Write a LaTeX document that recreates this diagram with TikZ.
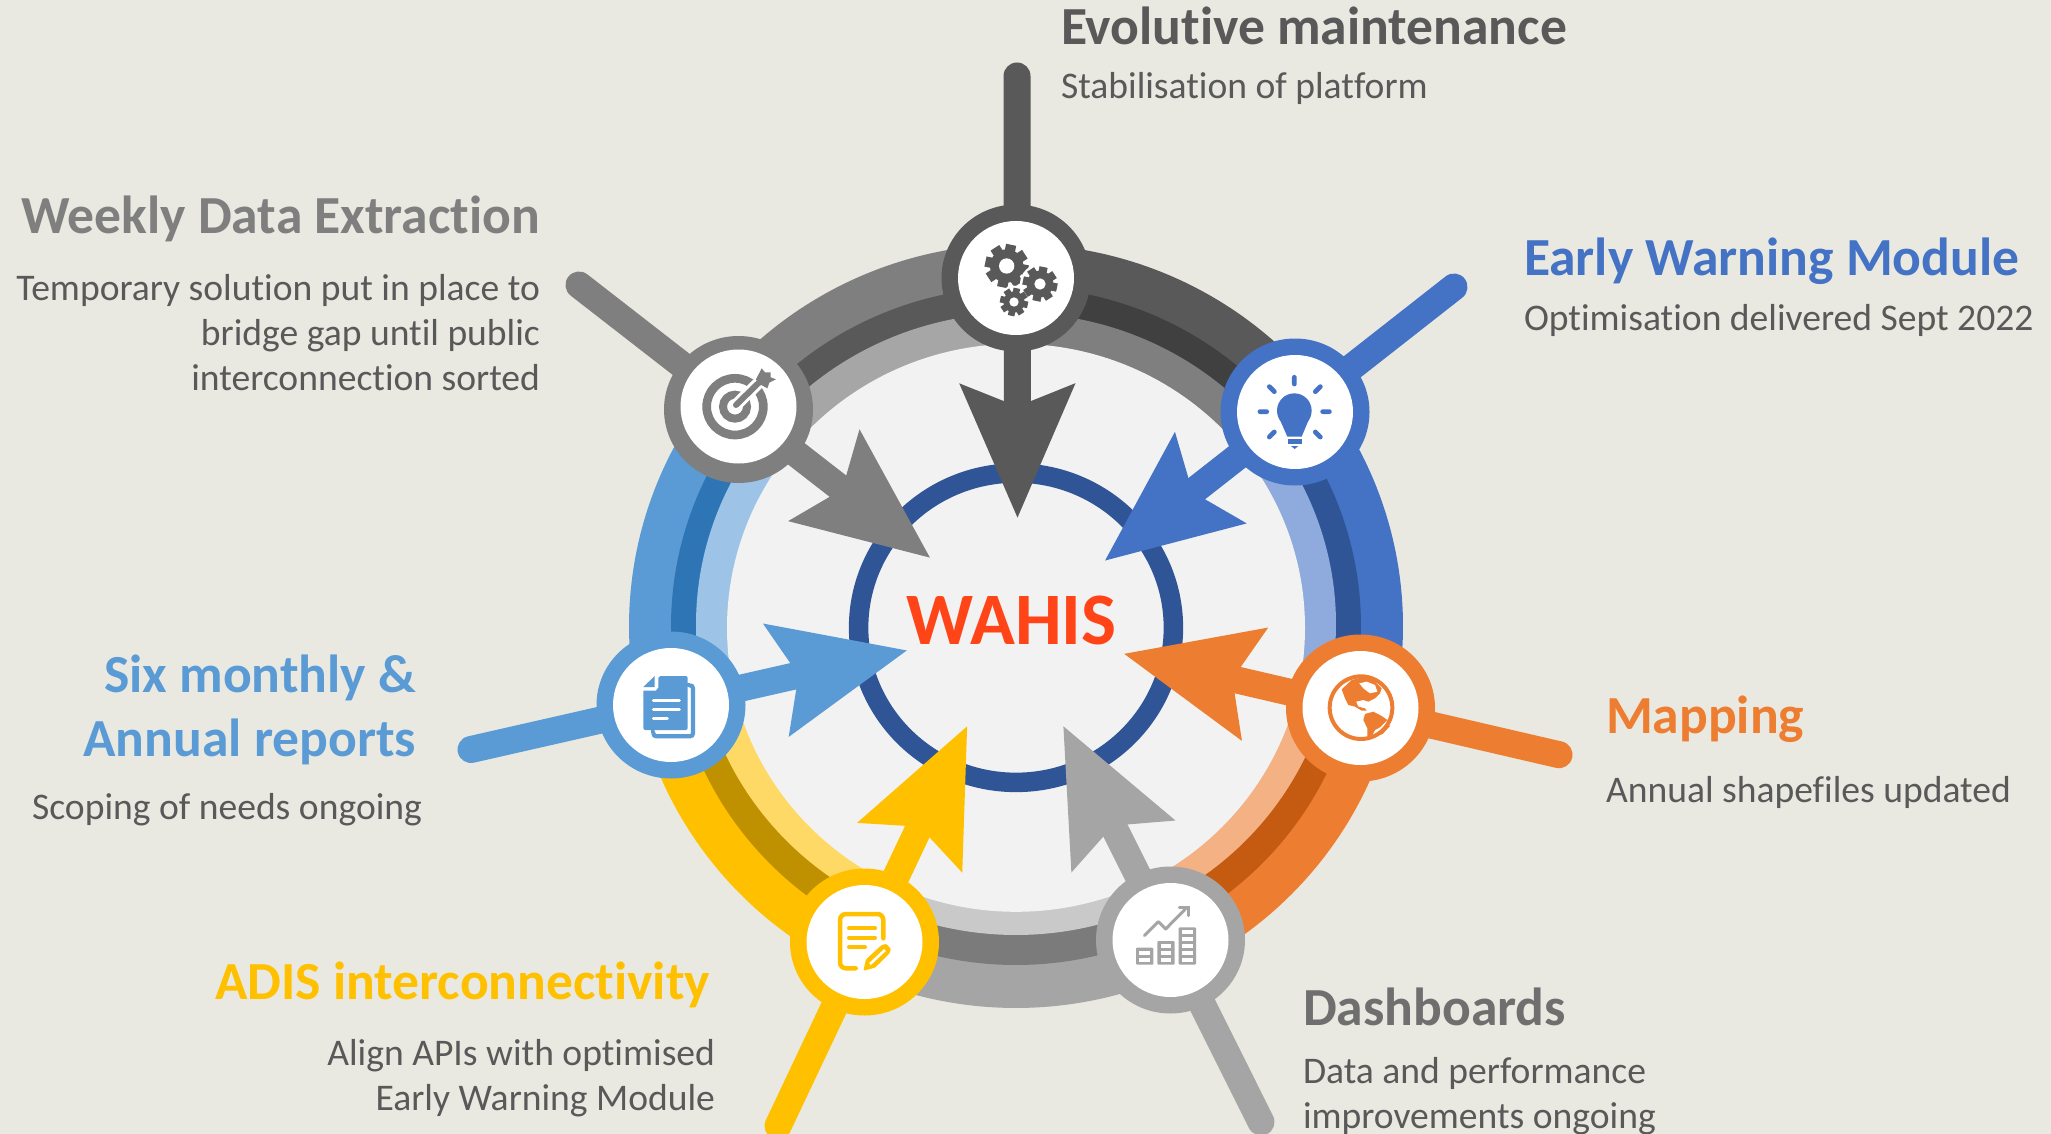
\documentclass[tikz,border=0pt]{standalone}
\usepackage{fontspec}
\setmainfont[Ligatures=NoCommon]{Carlito}
\usetikzlibrary{arrows.meta,shapes.geometric}
\definecolor{bgc}{HTML}{E9E9E1}
\definecolor{innerc}{HTML}{F2F2F2}
\definecolor{coreblue}{HTML}{2F5597}
\definecolor{gA}{HTML}{595959}\definecolor{gAd}{HTML}{404040}\definecolor{gAl}{HTML}{7F7F7F}
\definecolor{gB}{HTML}{7F7F7F}\definecolor{gBd}{HTML}{595959}\definecolor{gBl}{HTML}{A6A6A6}
\definecolor{bA}{HTML}{4472C4}\definecolor{bAd}{HTML}{2F5597}\definecolor{bAl}{HTML}{8FAADC}
\definecolor{bB}{HTML}{5B9BD5}\definecolor{bBd}{HTML}{2E75B6}\definecolor{bBl}{HTML}{9DC3E6}
\definecolor{oA}{HTML}{ED7D31}\definecolor{oAd}{HTML}{C55A11}\definecolor{oAl}{HTML}{F4B183}
\definecolor{sA}{HTML}{A5A5A5}\definecolor{sAd}{HTML}{7B7B7B}\definecolor{sAl}{HTML}{C9C9C9}
\definecolor{yA}{HTML}{FFC000}\definecolor{yAd}{HTML}{BF9000}\definecolor{yAl}{HTML}{FFD966}
\definecolor{headtxt}{HTML}{595959}\definecolor{bodytxt}{HTML}{595959}\definecolor{wahisc}{HTML}{FF4517}
\definecolor{dashtxt}{HTML}{6F6F6F}
\newcommand{\ringsector}[3]{%
 \fill[#3] (1016,626) -- ++(#1:387 and 382) arc[start angle=#1,end angle=#2,x radius=387,y radius=382] -- cycle;
 \fill[#3d] (1016,626) -- ++(#1:345 and 339) arc[start angle=#1,end angle=#2,x radius=345,y radius=339] -- cycle;
 \fill[#3l] (1016,624) -- ++(#1:320 and 311) arc[start angle=#1,end angle=#2,x radius=320,y radius=311] -- cycle;
}
\newcommand{\hubnode}[6]{%
 \node[hubring,fill=#2] (#1) at (#3,#4) {};
 \node[hubface] (#1face) at (#5,#6) {};
}
\newcommand{\geared}[6]{% x y outer body hole color
 \foreach \a in {0,45,...,315}{\draw[line width=0.62*#4/3*1pt,#6] (#1,#2) -- ++(\a+12:#3);}
 \fill[#6] (#1,#2) circle[radius=#4];
 \fill[white] (#1,#2) circle[radius=#5];
}
\tikzset{
 hubring/.style={ellipse,minimum width=149pt,minimum height=147pt,inner sep=0pt,outer sep=0pt},
 hubface/.style={ellipse,fill=white,minimum width=116pt,minimum height=114pt,inner sep=0pt,outer sep=0pt},
 spoke/.style={line width=27pt,line cap=round,-{Stealth[length=132pt,width=110pt,inset=20pt]}},
 headlabel/.style={font=\bfseries\fontsize{53.6}{53.6}\selectfont,inner sep=0pt,outer sep=0pt},
 bodylabel/.style={font=\fontsize{37.6}{44.5}\selectfont,text=bodytxt,inner sep=0pt,outer sep=0pt},
}
\begin{document}
\begin{tikzpicture}[x=1pt,y=-1pt]
\useasboundingbox (0,0) rectangle (2051,1134);
\fill[bgc] (0,0) rectangle (2051,1134);
% ring
\ringsector{-141.4}{-90}{gB}
\ringsector{-90}{-37.9}{gA}
\ringsector{-37.9}{12.9}{bA}
\ringsector{-192.4}{-141.4}{bB}
\ringsector{-244.2}{-192.4}{yA}
\ringsector{-296.4}{-244.2}{sA}
\ringsector{-347.1}{-296.4}{oA}
\fill[innerc] (1016,627.8) ellipse[x radius=289,y radius=284];
\node[ellipse,draw=coreblue,line width=19.5pt,minimum width=314.8pt,minimum height=309.4pt,inner sep=0pt] (core) at (1016,627.7) {};
% coordinates
\coordinate (gearEnd) at (1017,76);   \coordinate (gearTip) at (1017.5,518.7);
\coordinate (targetEnd) at (579,285); \coordinate (targetTip) at (930.8,558.3);
\coordinate (bulbEnd) at (1454,287);  \coordinate (bulbTip) at (1104.2,561.2);
\coordinate (fileEnd) at (471,749.5); \coordinate (fileTip) at (907.9,650.2);
\coordinate (globeEnd) at (1559,754.7); \coordinate (globeTip) at (1123.1,653.6);
\coordinate (penEnd) at (778,1126);   \coordinate (penTip) at (967.6,725.3);
\coordinate (chartEnd) at (1261,1122); \coordinate (chartTip) at (1062.9,725.3);
\draw[spoke,gA] (gearEnd) -- (gearTip);
\draw[spoke,gB] (targetEnd) -- (targetTip);
\draw[spoke,bA] (bulbEnd) -- (bulbTip);
\draw[spoke,bB] (fileEnd) -- (fileTip);
\draw[spoke,oA] (globeEnd) -- (globeTip);
\draw[spoke,yA] (penEnd) -- (penTip);
\draw[spoke,sA] (chartEnd) -- (chartTip);
% hubs
\hubnode{gear}{gA}{1016}{278}{1016}{278}
\hubnode{target}{gB}{738.5}{409.5}{738.5}{406.5}
\hubnode{bulb}{bA}{1295}{412}{1295}{412}
\hubnode{globe}{oA}{1360.5}{708}{1360.5}{708}
\hubnode{file}{bB}{671}{705}{671}{705}
\hubnode{pen}{yA}{864.5}{942}{864.5}{942}
\hubnode{chart}{sA}{1170.5}{940}{1170.5}{940}
% gear icon
\begin{scope}[shift={(930,210)},scale=1/3]
 \geared{230}{168}{65}{50}{23}{gA}
 \fill[white] (330,222) circle[radius=60];
 \fill[white] (252,276) circle[radius=49];
 \geared{330}{222}{52}{40}{17}{gA}
 \geared{252}{276}{42}{32}{14}{gA}
\end{scope}
% target icon
\begin{scope}[shift={(650,320)},scale=1/3]
 \draw[gB,line width=8.7pt] (255,260) circle[radius=85];
 \draw[gB,line width=8pt] (255,260) circle[radius=36];
 \draw[white,line width=12pt] (258,255) -- (345,170);
 \draw[gB,line width=6pt,line cap=round] (258,255) -- (345,170);
 \fill[gB] (335,145)--(345,157)--(362,157)--(362,172)--(378,178)--(358,188)--(352,205)--(325,190)--(318,178)--cycle;
\end{scope}
% bulb icon
\begin{scope}[shift={(1210,340)},scale=1/3]
 \fill[bA] (253,212) circle[radius=52];
 \fill[bA] (208,235) -- (298,235) -- (275,290) -- (232,290) -- cycle;
 \fill[bA] (233,296) rectangle (277,311);
 \fill[bA] (243,318) -- (265,318) -- (254,327) -- cycle;
 \draw[bA,line width=4.8pt,line cap=round]
  (253,112)--(253,132) (338,215)--(358,215) (150,215)--(170,215)
  (178,140)--(193,155) (331,140)--(316,155) (178,291)--(193,276) (331,291)--(316,276);
\end{scope}
% globe icon
\begin{scope}[shift={(1280,640)},scale=1/3]
 \draw[oA,line width=4pt] (243,203) circle[radius=94];
 \fill[oA] (185,148)--(215,120)--(245,112)--(280,120)--(305,145)--(300,160)--(285,175)--(265,185)--(250,180)--(228,185)--(235,200)--(255,205)--(260,212)--(245,212)--(225,200)--(205,195)--(195,175)--cycle;
 \fill[white] (238,130)--(260,125)--(285,135)--(292,155)--(270,160)--(250,145)--cycle;
 \fill[oA] (255,222)--(280,215)--(305,228)--(322,240)--(300,262)--(285,270)--(272,295)--(262,290)--(262,265)--(250,240)--cycle;
 \fill[oA] (282,290)--(303,272)--(324,254)--(330,258)--(308,282)--cycle;
\end{scope}
% chart icon
\begin{scope}[shift={(1100,870)},scale=1/3]
 \fill[sA,rounded corners=1pt] (108,233) rectangle (160,284);
 \fill[sA,rounded corners=1pt] (172,213) rectangle (224,284);
 \fill[sA,rounded corners=1pt] (236,172) rectangle (288,284);
 \foreach \y in {243,264} {\fill[white] (118,\y) rectangle (150,\y+11);}
 \foreach \y in {222,243,264} {\fill[white] (182,\y) rectangle (214,\y+11);}
 \foreach \y in {181,202,222,243,264} {\fill[white] (246,\y) rectangle (278,\y+11);}
 \draw[sA,line width=3pt,line cap=round,line join=round] (133,197)--(175,155)--(197,177)--(258,115);
 \draw[sA,line width=3pt,line cap=round,line join=miter] (238,111)--(265,111)--(265,137);
\end{scope}
% pen icon
\begin{scope}[shift={(785,870)},scale=1/3]
 \draw[yA,line width=4.5pt,line cap=round,rounded corners=6pt] (212,295)--(165,295)--(165,132)--(295,132)--(295,205);
 \draw[yA,line width=4pt,line cap=round] (192,175)--(270,175) (192,203)--(270,203) (192,231)--(240,231);
 \fill[yA,rounded corners=1pt] (235,302)--(243,268)--(290,225)--(305,222)--(318,238)--(312,252)--(270,293)--cycle;
 \draw[white,line width=2.6pt] (255,282)--(300,240);
\end{scope}
% file icon
\begin{scope}[shift={(590,630)},scale=1/3]
 \draw[bB,line width=4.2pt,line cap=butt,rounded corners=3pt] (300,166)--(309,166)--(309,319)--(190,319)--(190,310);
 \fill[bB,rounded corners=2pt] (160,178)--(202,178)--(205,138)--(293,138)--(293,300)--(160,300)--cycle;
 \fill[white] (197,135)--(205,135)--(205,172)--(197,182)--(157,182)--(157,175)--(197,175)--cycle;
 \fill[bB] (160,171)--(194,171)--(194,138)--cycle;
 \draw[white,line width=3pt,line cap=round] (190,212)--(268,212) (190,238)--(268,238) (190,264)--(232,264);
\end{scope}
% centre text
\node[font=\bfseries\fontsize{74}{74}\selectfont,text=wahisc,anchor=base,inner sep=0pt] (wahis) at (1011.5,644) {WAHIS};
% labels
\node[headlabel,text=headtxt,anchor=base west] (evoT) at (1061,45) {Evolutive maintenance};
\node[bodylabel,anchor=base west] (evoB) at (1061,99) {Stabilisation of platform};
\node[headlabel,text=gB,anchor=base east] (wdeT) at (540,234) {Weekly Data Extraction};
\node[bodylabel,anchor=base east] (wdeB) at (540,300) {Temporary solution put in place to};
\node[bodylabel,anchor=base east] (wdeB2) at (540,345) {bridge gap until public};
\node[bodylabel,anchor=base east] (wdeB3) at (540,390) {interconnection sorted};
\node[headlabel,text=bA,anchor=base west] (ewT) at (1524,276) {Early Warning Module};
\node[bodylabel,anchor=base west] (ewB) at (1524,330) {Optimisation delivered Sept 2022};
\node[headlabel,text=bB,anchor=base east] (smT) at (416,692) {Six monthly \&};
\node[headlabel,text=bB,anchor=base east] (smT2) at (416,756) {Annual reports};
\node[bodylabel,anchor=base east] (smB) at (422,819) {Scoping of needs ongoing};
\node[headlabel,text=oA,anchor=base west] (mapT) at (1606,733) {Mapping};
\node[bodylabel,anchor=base west] (mapB) at (1606,802) {Annual shapefiles updated};
\node[headlabel,text=yA,anchor=base east] (adT) at (710,999) {ADIS interconnectivity};
\node[bodylabel,anchor=base east] (adB) at (715,1065) {Align APIs with optimised};
\node[bodylabel,anchor=base east] (adB2) at (715,1110) {Early Warning Module};
\node[headlabel,text=dashtxt,anchor=base west] (daT) at (1303,1025) {Dashboards};
\node[bodylabel,anchor=base west] (daB) at (1303,1083) {Data and performance};
\node[bodylabel,anchor=base west] (daB2) at (1303,1128) {improvements ongoing};
\end{tikzpicture}
\end{document}
